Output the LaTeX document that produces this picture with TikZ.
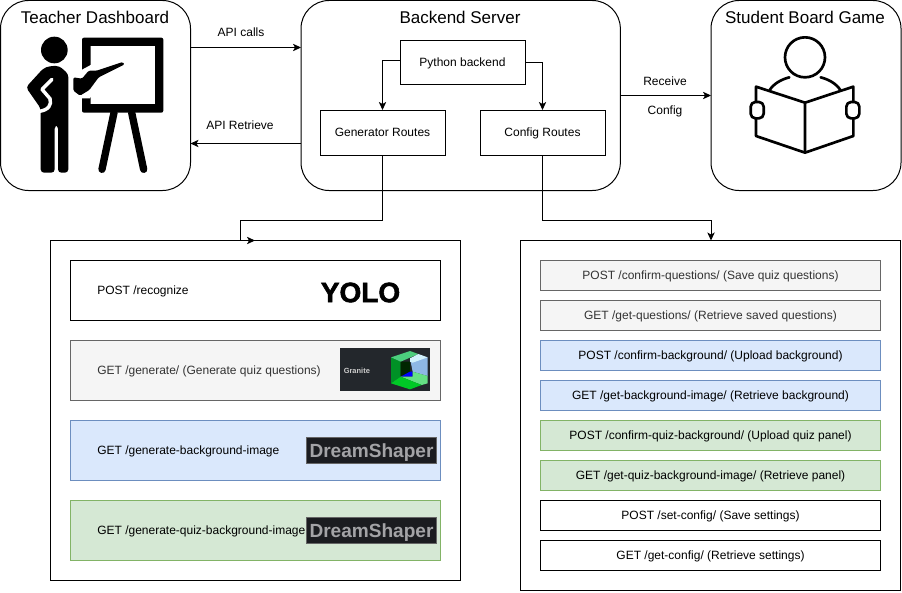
\documentclass[tikz,border=0pt]{standalone}
\usepackage{fontspec}
\setmainfont{Liberation Sans}
\usetikzlibrary{arrows.meta}
\definecolor{txtgray}{HTML}{333333}
\definecolor{gfill}{HTML}{F5F5F5}\definecolor{gline}{HTML}{666666}
\definecolor{bfill}{HTML}{DAE8FC}\definecolor{bline}{HTML}{6C8EBF}
\definecolor{nfill}{HTML}{D5E8D4}\definecolor{nline}{HTML}{82B366}
\definecolor{logodark}{HTML}{1B1C20}\definecolor{logotxt}{HTML}{A3A3A6}
\definecolor{gradark}{HTML}{23272C}
\tikzset{
  boxbase/.style={draw=black,line width=0.75pt,fill=white,inner sep=0pt,outer sep=0pt,anchor=north west,font=\fontsize{9}{11}\selectfont,text height=7.5pt,text depth=1.5pt},
  bigbox/.style={boxbase,rounded corners=21pt,minimum width=142.5pt,minimum height=142.5pt},
  routebox/.style={boxbase,minimum width=93.75pt,minimum height=33.75pt},
  panel/.style={boxbase},
  lrow/.style={boxbase,minimum width=277.5pt,minimum height=45pt},
  rrow/.style={boxbase,minimum width=255pt,minimum height=22.5pt},
  grayrow/.style={draw=gline,fill=gfill,text=txtgray},
  bluerow/.style={draw=bline,fill=bfill},
  greenrow/.style={draw=nline,fill=nfill},
  title/.style={inner sep=0pt,font=\fontsize{12.75}{15}\selectfont},
  lbl/.style={inner sep=0pt,font=\fontsize{9}{11}\selectfont,text height=7.5pt,text depth=1.5pt},
  conn/.style={line width=0.75pt,draw=black,-{Stealth[length=6pt,width=5.5pt,inset=1.5pt]}},
  logo/.style={fill=logodark,draw=gline,line width=0.4pt,inner sep=0pt,outer sep=0pt,anchor=north west,minimum width=97.5pt,minimum height=19.5pt,text=logotxt,font=\fontsize{14.3}{16}\selectfont\bfseries,text height=13pt,text depth=2.4pt},
  iconline/.style={draw=black,line width=2pt,line join=round,line cap=round},
}
\begin{document}
\begin{tikzpicture}[x=0.75pt,y=-0.75pt]
\useasboundingbox (0,0) rectangle (902,592);

% top boxes
\node[bigbox] (teacher) at (0.5,0.5) {};
\node[bigbox,minimum width=239.5pt] (backend) at (301,0.5) {};
\node[bigbox] (student) at (711,0.5) {};
\node[title] (teachertitle) at (95,17) {Teacher Dashboard};
\node[title] (backendtitle) at (460,17) {Backend Server};
\node[title] (studenttitle) at (805,17) {Student Board Game};

% backend inner
\node[routebox,minimum height=33pt] (python) at (400,40.5) {};
\node[lbl] (pythontxt) at (462.5,62) {Python backend};
\node[routebox] (genroutes) at (320,110) {Generator Routes};
\node[routebox] (cfgroutes) at (480,110) {Config Routes};

% panels
\node[panel,minimum width=307.5pt,minimum height=255pt] (leftpanel) at (50.5,240.5) {};
\node[panel,minimum width=285pt,minimum height=262.5pt] (rightpanel) at (520.5,240.5) {};

% left rows
\node[lrow] (recognize) at (70.5,260.5) {};
\node[lrow,grayrow] (generate) at (70.5,340.5) {};
\node[lrow,bluerow] (genbg) at (70.5,420.5) {};
\node[lrow,greenrow] (genquiz) at (70.5,500.5) {};
\node[lbl,anchor=west] (recognizetxt) at (97,290) {POST /recognize};
\node[lbl,anchor=west,text=txtgray] (generatetxt) at (97,370) {GET /generate/ (Generate quiz questions)};
\node[lbl,anchor=west] (genbgtxt) at (97,450) {GET /generate-background-image};
\node[lbl,anchor=west] (genquiztxt) at (97,530) {GET /generate-quiz-background-image};

% logos
\node[inner sep=0pt,font=\fontsize{21}{22}\selectfont\bfseries,text=black] (yolo) at (360.5,292.5) {\addfontfeature{FakeBold=2}YOLO};
\node[logo] (dream1) at (306.5,437) {DreamShaper};
\node[logo] (dream2) at (306.5,517) {DreamShaper};
\node[fill=gradark,inner sep=0pt,outer sep=0pt,anchor=north west,minimum width=67.5pt,minimum height=32.25pt] (granite) at (340,348) {};
\node[inner sep=0pt,text=white!80!black,font=\fontsize{5.6}{7}\selectfont\bfseries,anchor=west] (granitetxt) at (343.5,370.5) {Granite};
\begin{scope}[shift={(290,250)},x=0.25pt,y=-0.25pt]
  \fill[green!60!black!70!teal] (303,322) -- (332,335) -- (332,380) -- (303,400) -- cycle;
  \fill[black!85!green] (332,335) -- (360,335) -- (360,370) -- (332,380) -- cycle;
  \fill[blue] (332,380) -- (360,365) -- (368,365) -- (368,380) -- cycle;
  \fill[cyan!60!blue!45] (360,325) -- (413,322) -- (413,378) -- (368,365) -- cycle;
  \fill[green!45!teal!70] (303,322) -- (360,303) -- (385,312) -- (332,335) -- cycle;
  \fill[cyan!18] (360,325) -- (385,312) -- (413,322) -- (368,338) -- (360,335) -- cycle;
  \fill[green!60!teal!60!white] (332,380) -- (368,380) -- (368,365) -- (413,378) -- (413,400) -- (395,405) -- cycle;
  \fill[green!75!black!85!cyan] (303,400) -- (332,380) -- (395,405) -- (360,418) -- cycle;
\end{scope}

% right rows
\node[rrow,grayrow] (r1) at (540.5,260.5) {POST /confirm-questions/ (Save quiz questions)};
\node[rrow,grayrow] (r2) at (540.5,300.5) {GET /get-questions/ (Retrieve saved questions)};
\node[rrow,bluerow] (r3) at (540.5,340.5) {POST /confirm-background/ (Upload background)};
\node[rrow,bluerow] (r4) at (540.5,380.5) {GET /get-background-image/ (Retrieve background)};
\node[rrow,greenrow] (r5) at (540.5,420.5) {POST /confirm-quiz-background/ (Upload quiz panel)};
\node[rrow,greenrow] (r6) at (540.5,460.5) {GET /get-quiz-background-image/ (Retrieve panel)};
\node[rrow] (r7) at (540.5,500.5) {POST /set-config/ (Save settings)};
\node[rrow] (r8) at (540.5,540.5) {GET /get-config/ (Retrieve settings)};

% connectors
\draw[conn] (teacher.east |- 0,47.5) -- (backend.west |- 0,47.5);
\node[lbl] (apicalls) at (241,33) {API calls};
\draw[conn] (backend.west |- 0,143.5) -- (teacher.east |- 0,143.5);
\node[lbl] (apiretrieve) at (240,125) {API Retrieve};
\draw[conn] (backend.east |- 0,95.5) -- (student.west |- 0,95.5);
\node[lbl] (receive) at (665,81) {Receive};
\node[lbl] (config) at (665,110) {Config};
\draw[conn] (python.west |- 0,60.5) -| (genroutes.north);
\draw[conn] (python.east) -| (cfgroutes.north);
\coordinate (genbend) at (240.5,220.5);
\coordinate (gentip) at (255,240.5);
\coordinate (cfgbend) at (711,220.5);
\draw[conn] (genroutes.south) |- (genbend) -- (genbend |- leftpanel.north) -- (gentip);
\draw[conn] (cfgroutes.south) |- (cfgbend) -- (cfgbend |- rightpanel.north);

% teacher icon, coordinates in zoomed units (3 per pixel)
\begin{scope}[x=0.25pt,y=-0.25pt]
  \fill (163,150) circle (40);
  \fill[rounded corners=2.5pt] (150,198) -- (178,198) -- (205,222) -- (205,518) -- (174,518) -- (174,376) -- (164,376) -- (164,518) -- (122,518) -- (122,325) -- (78,262) -- (130,205) -- cycle;
  \draw[white,line width=2.6pt,line join=round,line cap=round] (156,238) -- (126,268) -- (150,296) .. controls (156,315) and (145,330) .. (118,334);
  \fill[rounded corners=1.5pt,even odd rule] (246,113) rectangle (490,338) (272,138) [sharp corners] rectangle (465,312);
  \fill[white] (235,215) -- (272,195) -- (380,175) -- (385,205) -- (290,255) -- (270,295) -- (240,295) -- cycle;
  \fill[rounded corners=1pt] (220,232) -- (246,236) -- (266,212) -- (290,212) -- (368,186) -- (374,193) -- (296,232) -- (268,270) -- (240,287) -- (220,272) -- cycle;
  \draw[line width=5.5pt,line cap=round] (342,338) -- (306,508);
  \draw[line width=5.5pt,line cap=round] (395,338) -- (431,508);
\end{scope}

% student icon
\begin{scope}[shift={(700,0)},x=0.25pt,y=-0.25pt]
  \draw[iconline] (315,172) circle (60);
  \draw[iconline] (209,270) .. controls (222,250) and (245,238) .. (268,232);
  \draw[iconline] (421,270) .. controls (408,250) and (385,238) .. (362,232);
  \draw[iconline] (315,308) -- (168,260) -- (168,305);
  \draw[iconline] (168,356) -- (168,408) -- (315,458) -- (460,408) -- (460,356);
  \draw[iconline] (460,305) -- (460,260) -- (315,308) -- (315,458);
  \draw[iconline,rounded corners=3.5pt] (152,306) rectangle (191,355);
  \draw[iconline,rounded corners=3.5pt] (439,306) rectangle (478,355);
\end{scope}
\end{tikzpicture}
\end{document}
